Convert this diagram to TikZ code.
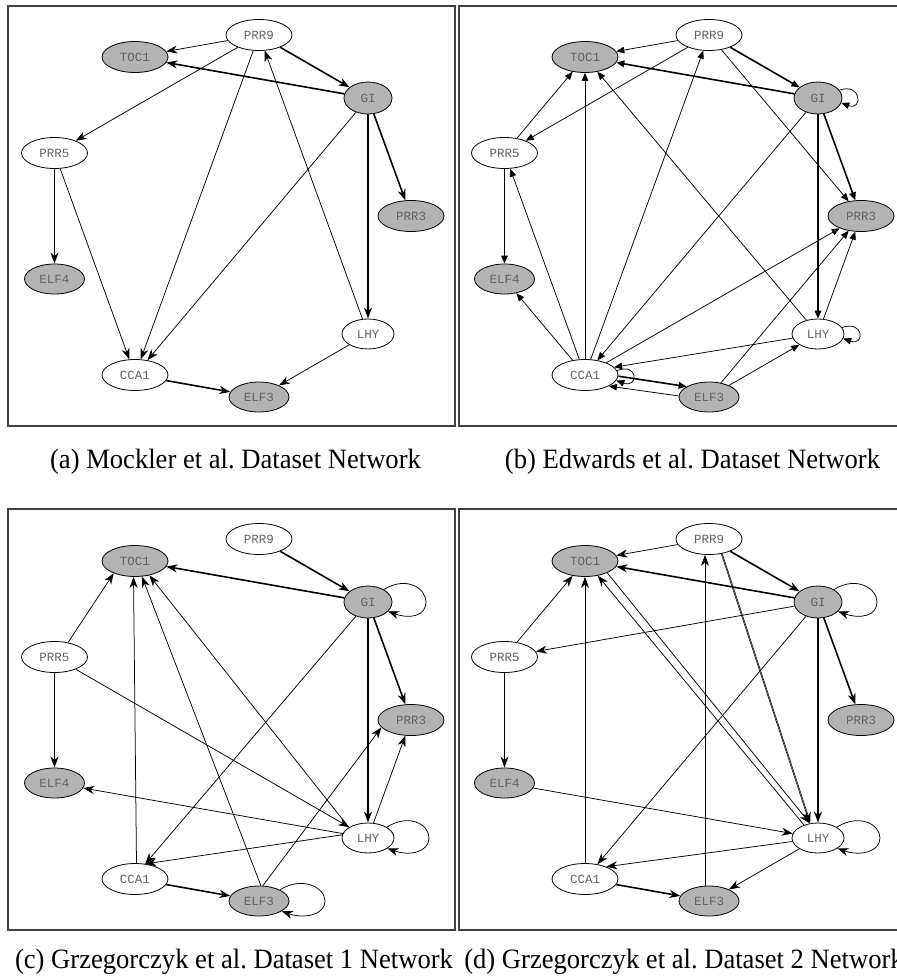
\documentclass[tikz,border=0pt]{standalone}
\usepackage{fontspec}
\usepackage{graphicx}
\setmainfont{Liberation Serif}
\newfontfamily\genefont{Liberation Mono}
\usetikzlibrary{shapes.geometric,arrows.meta,calc}
\frenchspacing

\definecolor{nodegray}{RGB}{179,179,179}
\definecolor{framegray}{RGB}{64,64,64}

\tikzset{
  gene/.style={ellipse, draw=black, line width=0.8pt, inner sep=0pt,
    minimum width=66pt, minimum height=31pt,
    font=\genefont\fontsize{12.5}{13}\selectfont, text=black!62},
  plain/.style={gene, fill=white},
  shaded/.style={gene, fill=nodegray},
  giwidth/.style={minimum width=48pt, minimum height=32pt},
  lhywidth/.style={minimum width=52pt, minimum height=30pt},
  elfwidth/.style={minimum width=60pt, minimum height=30pt},
  edge/.style={draw=black, line width=0.75pt},
  strong/.style={line width=1.6pt},
  arr/.style={-{Stealth[length=11pt,width=8pt,inset=3.5pt]}},
  frame/.style={draw=framegray, line width=1.4pt},
  caption/.style={inner sep=0pt, font=\fontsize{28}{30}\selectfont},
}

% the nine genes, placed identically in every panel
\newcommand\genelayout[1]{%
  \node[plain] (#1PRR9) at (259,35) {PRR9};
  \node[shaded] (#1TOC1) at (135,57) {TOC1};
  \node[shaded,giwidth] (#1GI) at (368,98) {GI};
  \node[plain] (#1PRR5) at (54.5,153) {PRR5};
  \node[shaded] (#1PRR3) at (411,216) {PRR3};
  \node[shaded,elfwidth] (#1ELF4) at (54.5,279) {ELF4};
  \node[plain,lhywidth] (#1LHY) at (368,334) {LHY};
  \node[plain] (#1CCA1) at (135,375) {CCA1};
  \node[shaded,elfwidth] (#1ELF3) at (259,397) {ELF3};
}
% self-regulation loops
\newcommand\bigloop[4]{%
  \draw[edge,arr] (#1.#2) .. controls +(22,-14) and +(0,-14) ..
    ($(#1.center)+(#4,0)$) .. controls +(0,14) and +(22,8) .. (#1.#3);}
\newcommand\smallloop[3]{%
  \draw[edge,arr] (#1.#2) .. controls +(22,-8) and +(22,8) .. (#1.#3);}

\begin{document}
\begin{tikzpicture}[x=1pt,y=-1pt]
\useasboundingbox (0,0) rectangle (897,978);
\fill[white] (0,0) rectangle (897,978);

% panel frames
\draw[frame] (8,6) rectangle (455,426);
\draw[frame] (459,6) rectangle (910,426);
\draw[frame] (8,509) rectangle (455,930);
\draw[frame] (459,509) rectangle (910,930);

% (a) Mockler
\begin{scope}
  \genelayout{a}
  \draw[edge,arr] (aPRR9) -- (aTOC1);
  \draw[edge,strong,arr] (aPRR9) -- (aGI);
  \draw[edge,arr] (aPRR9) -- (aPRR5);
  \draw[edge,arr] (aPRR9) -- (aCCA1);
  \draw[edge,strong,arr] (aGI) -- (aTOC1);
  \draw[edge,arr] (aGI) -- (aCCA1);
  \draw[edge,strong,arr] (aGI) -- (aLHY);
  \draw[edge,strong,arr] (aGI) -- (aPRR3);
  \draw[edge,strong,arr] (aPRR5) -- (aELF4);
  \draw[edge,arr] (aPRR5) -- (aCCA1);
  \draw[edge,arr] (aLHY) -- (aPRR9);
  \draw[edge,arr] (aLHY) -- (aELF3);
  \draw[edge,strong,arr] (aCCA1) -- (aELF3);
\end{scope}

% (b) Edwards
\begin{scope}[shift={(450,0)}, arr/.style={-{Triangle[length=8pt,width=6.5pt]}}]
  \genelayout{b}
  \draw[edge,arr] (bPRR9) -- (bTOC1);
  \draw[edge,strong,arr] (bPRR9) -- (bGI);
  \draw[edge,arr] (bPRR9) -- (bPRR5);
  \draw[edge,arr] (bPRR9) -- (bPRR3);
  \draw[edge,strong,arr] (bGI) -- (bTOC1);
  \smallloop{bGI}{20}{-12}
  \draw[edge,strong,arr] (bGI) -- (bPRR3);
  \draw[edge,strong,arr] (bGI) -- (bLHY);
  \draw[edge,arr] (bGI) -- (bCCA1);
  \draw[edge,arr] (bPRR5) -- (bTOC1);
  \draw[edge,strong,arr] (bPRR5) -- (bELF4);
  \draw[edge,arr] (bCCA1) -- (bPRR5);
  \draw[edge,arr] (bCCA1) -- (bTOC1);
  \draw[edge,arr] (bCCA1) -- (bPRR9);
  \draw[edge,arr] (bCCA1) -- (bELF4);
  \draw[edge,arr] (bCCA1) -- (bPRR3);
  \draw[edge,strong,arr] (bCCA1.-2) -- (bELF3.155);
  \smallloop{bCCA1}{8}{-10}
  \draw[edge,arr] (bLHY) -- (bTOC1);
  \draw[edge,arr] (bLHY) -- (bPRR3);
  \draw[edge,arr] (bLHY) -- (bCCA1.15);
  \smallloop{bLHY}{15}{-10}
  \draw[edge,arr] (bELF3) -- (bPRR3);
  \draw[edge,arr] (bELF3) -- (bLHY);
  \draw[edge,arr] (bELF3.178) -- (bCCA1.-25);
\end{scope}

% (c) Grzegorczyk, dataset 1
\begin{scope}[shift={(0,504)}]
  \genelayout{c}
  \draw[edge,strong,arr] (cPRR9) -- (cGI);
  \draw[edge,strong,arr] (cGI) -- (cTOC1);
  \bigloop{cGI}{38}{-25}{58}
  \draw[edge,strong,arr] (cGI) -- (cPRR3);
  \draw[edge,strong,arr] (cGI) -- (cLHY);
  \draw[edge,arr] (cGI) -- (cCCA1.56);
  \draw[edge,arr] (cPRR5.47) -- (cTOC1.-150);
  \draw[edge,strong,arr] (cPRR5) -- (cELF4);
  \draw[edge,arr] (cPRR5) -- (cLHY);
  \draw[edge,arr] ([xshift=1.5pt]cCCA1.north) -- ([xshift=-1.5pt]cTOC1.south);
  \draw[edge,arr] (cELF3.83) -- (cTOC1.-66);
  \draw[edge,arr] (cELF3.76) -- (cPRR3.-166);
  \bigloop{cELF3}{28}{-24}{66}
  \draw[edge,arr] (cLHY.151) -- (cTOC1.-45);
  \draw[edge,arr] (cLHY) -- (cELF4);
  \draw[edge,arr] (cLHY.173) -- (cCCA1.56);
  \draw[edge,arr] (cLHY) -- (cPRR3);
  \bigloop{cLHY}{30}{-28}{61}
  \draw[edge,strong,arr] (cCCA1) -- (cELF3);
\end{scope}

% (d) Grzegorczyk, dataset 2
\begin{scope}[shift={(450,504)}]
  \genelayout{d}
  \draw[edge,arr] (dPRR9) -- (dTOC1);
  \draw[edge,strong,arr] (dPRR9) -- (dGI);
  \draw[edge,strong,arr] (dPRR9.-49) -- (dLHY.118);
  \draw[draw=black!45, line width=0.5pt, shorten >=9pt] (dPRR9.-49) -- (dLHY.118);
  \draw[edge,arr] ([xshift=-4pt]dELF3.north) -- ([xshift=-4pt]dPRR9.south);
  \draw[edge,strong,arr] (dGI) -- (dTOC1);
  \bigloop{dGI}{38}{-25}{59}
  \draw[edge,arr] (dGI) -- (dPRR5);
  \draw[edge,arr] (dGI) -- (dCCA1.50);
  \draw[edge,strong,arr] (dGI) -- (dLHY);
  \draw[edge,strong,arr] (dGI) -- (dPRR3);
  \draw[edge,arr] (dPRR5) -- (dTOC1);
  \draw[edge,strong,arr] (dPRR5) -- (dELF4);
  \draw[edge,arr] (dCCA1) -- (dTOC1);
  \draw[edge,arr] (dTOC1.-28) -- (dLHY.119);
  \draw[edge,arr] (dLHY.137) -- (dTOC1.-49);
  \draw[edge,arr] (dELF4) -- (dLHY);
  \draw[edge,arr] (dLHY) -- (dCCA1.30);
  \draw[edge,arr] (dLHY) -- (dELF3);
  \bigloop{dLHY}{30}{-28}{62}
  \draw[edge,strong,arr] (dCCA1) -- (dELF3);
\end{scope}

% captions
\node[caption] (capa) at (235.5,462) {\scalebox{0.95}[1]{(a) Mockler et al. Dataset Network}};
\node[caption] (capb) at (692.5,462) {\scalebox{0.95}[1]{(b) Edwards et al. Dataset Network}};
\node[caption] (capc) at (234,962) {\scalebox{0.95}[1]{(c) Grzegorczyk et al. Dataset 1 Network}};
\node[caption] (capd) at (684,962) {\scalebox{0.95}[1]{(d) Grzegorczyk et al. Dataset 2 Network}};
\end{tikzpicture}
\end{document}
